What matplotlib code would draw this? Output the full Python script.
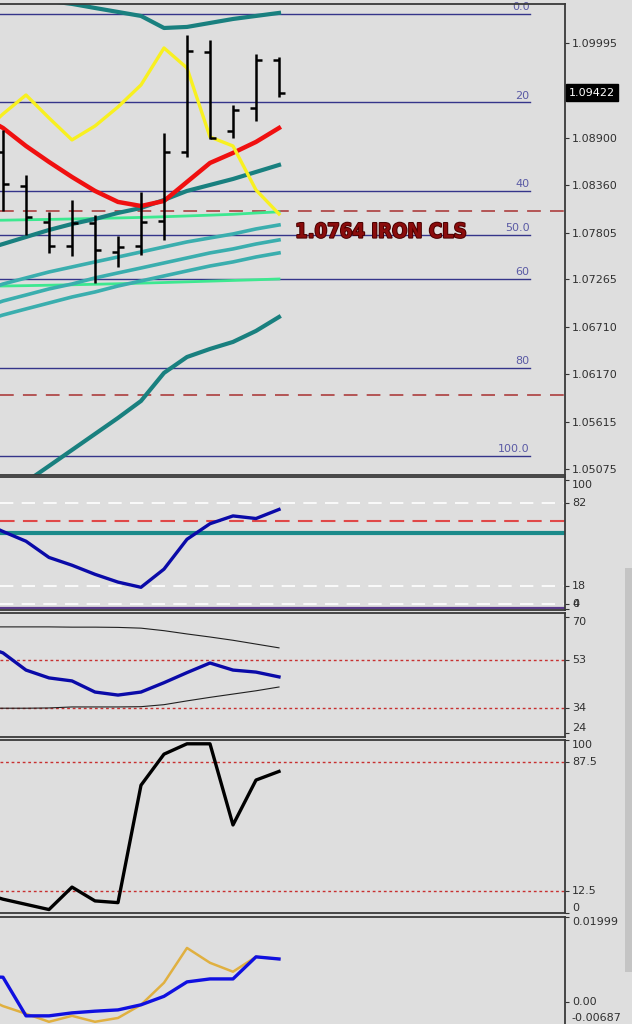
import numpy as np
import matplotlib
matplotlib.use('Agg')
import matplotlib.pyplot as plt
import matplotlib.patheffects as pe
from matplotlib.transforms import blended_transform_factory, ScaledTranslation
from matplotlib.patches import Rectangle

W, H = 632, 1024
BG = '#dedede'

# ---------------- price panel data ----------------
bar_idx = np.arange(13)
bar_open = [1.08736, 1.08343, 1.07928, 1.07650, 1.07916, 1.07581, 1.07650,
            1.07939, 1.08736, 1.09891, 1.08979, 1.09244, 1.09799]
bar_high = [1.08990, 1.08470, 1.08043, 1.08182, 1.08008, 1.07766, 1.08274,
            1.08956, 1.10087, 1.10030, 1.09279, 1.09868, 1.09833]
bar_low = [1.08055, 1.07777, 1.07570, 1.07535, 1.07223, 1.07408, 1.07546,
           1.07720, 1.08678, 1.08886, 1.08898, 1.09094, 1.09371]
bar_close = [1.08366, 1.07985, 1.07650, 1.07916, 1.07604, 1.07639, 1.07928,
             1.08736, 1.09903, 1.08898, 1.09221, 1.09799, 1.09422]

line_idx = np.arange(-1, 13)
yellow_line = [1.08932, 1.09175, 1.09394, 1.09129, 1.08875, 1.09036, 1.09256,
               1.09510, 1.09937, 1.09706, 1.08909, 1.08805, 1.08297, 1.08020]
red_line = [1.09163, 1.09013, 1.08805, 1.08621, 1.08447, 1.08286, 1.08159,
            1.08112, 1.08170, 1.08390, 1.08609, 1.08725, 1.08852, 1.09013]
teal_mid = [1.07593, 1.07673, 1.07754, 1.07835, 1.07904, 1.07962, 1.08032,
            1.08089, 1.08182, 1.08286, 1.08355, 1.08424, 1.08505, 1.08586]
green_a = [1.07945, 1.07948, 1.07953, 1.07957, 1.07962, 1.07968, 1.07974,
           1.07980, 1.07988, 1.07997, 1.08006, 1.08016, 1.08031, 1.08045]
green_b = [1.07185, 1.07188, 1.07192, 1.07197, 1.07202, 1.07208, 1.07214,
           1.07221, 1.07228, 1.07236, 1.07244, 1.07252, 1.07260, 1.07269]
lteal_a = [1.07119, 1.07211, 1.07281, 1.07350, 1.07408, 1.07466, 1.07523,
           1.07581, 1.07639, 1.07697, 1.07743, 1.07789, 1.07847, 1.07893]
lteal_b = [1.06923, 1.07015, 1.07084, 1.07154, 1.07211, 1.07281, 1.07339,
           1.07396, 1.07454, 1.07512, 1.07570, 1.07616, 1.07673, 1.07720]
lteal_c = [1.06773, 1.06853, 1.06923, 1.06992, 1.07061, 1.07119, 1.07188,
           1.07246, 1.07304, 1.07362, 1.07419, 1.07466, 1.07523, 1.07570]

band_idx = np.arange(1, 13)
teal_top = [1.10526, 1.10480, 1.10446, 1.10399, 1.10353, 1.10307, 1.10168,
            1.10180, 1.10226, 1.10272, 1.10307, 1.10342]
teal_low = [1.04925, 1.05109, 1.05294, 1.05479, 1.05664, 1.05860, 1.06184,
            1.06368, 1.06461, 1.06542, 1.06669, 1.06830]

fib_high = 1.10330
fib_low = 1.05225
fib_levels = [0, 20, 40, 50, 60, 80, 100]
fib_labels = ['0.0', '20', '40', '50.0', '60', '80', '100.0']
red_dashed_levels = [1.08055, 1.05929]
iron_text = '1.0764 IRON CLS'
iron_price = 1.0781
last_price = 1.09422
price_ticks = [1.09995, 1.08900, 1.08360, 1.07805, 1.07265, 1.06710,
               1.06170, 1.05615, 1.05075]

# ---------------- panel 2 ----------------
osc1 = [68, 60, 52.5, 40, 34, 27, 21, 17, 31, 54, 66, 72, 70, 77]
osc1_white = [82, 18, 4]
osc1_red = 68
osc1_teal = 59
osc1_purple = 1
osc1_ticks = [100, 82, 18, 4, 0]

# ---------------- panel 3 ----------------
osc2 = [59, 55.8, 49.0, 45.9, 44.7, 40.3, 39.1, 40.3, 44.0, 48.0, 51.8, 49.0, 48.2, 46.3]
osc2_upper = [66.1, 66.1, 66.1, 66.1, 66.0, 66.0, 65.9, 65.6, 64.6, 63.3, 62.1, 60.8, 59.3, 57.8]
osc2_lower = [33.9, 33.9, 33.9, 34.0, 34.4, 34.4, 34.4, 34.5, 35.3, 36.8, 38.2, 39.5, 40.8, 42.3]
osc2_levels = [53, 34]
osc2_ticks = [70, 53, 34, 24]

# ---------------- panel 4 ----------------
osc3 = [12, 8, 5, 2, 15, 7, 6, 74, 92, 98, 98, 51, 77, 82]
osc3_levels = [87.5, 12.5]
osc3_ticks = [100, 87.5, 12.5, 0]

# ---------------- panel 5 ----------------
macd_blue = [0.0060, 0.0058, -0.0033, -0.0033, -0.0026, -0.0022, -0.0019,
             -0.0007, 0.0013, 0.0047, 0.0054, 0.0054, 0.0106, 0.0101]
macd_gold = [0.0015, -0.0010, -0.0028, -0.0047, -0.0033, -0.0047, -0.0038,
             -0.0007, 0.0045, 0.0127, 0.0092, 0.0071, 0.0106, 0.0101]
macd_ticks = [0.01999, 0.0, -0.00687]
macd_labels = ['0.01999', '0.00', '-0.00687']

plt.rcParams['font.family'] = ['DejaVu Sans']

fig = plt.figure(figsize=(W / 100, H / 100), dpi=100, facecolor=BG)


def panel(top, bottom):
    ax = fig.add_axes([0, 1 - bottom / H, 565 / W, (bottom - top) / H], facecolor=BG)
    ax.set_xlim(-0.13, 24.435)
    ax.spines['left'].set_visible(False)
    for s in ['top', 'bottom', 'right']:
        ax.spines[s].set_color('#3a3a3a')
        ax.spines[s].set_linewidth(1.3)
    ax.set_xticks([])
    ax.yaxis.tick_right()
    ax.tick_params(axis='y', direction='out', length=3, width=0.8, color='#333333',
                   pad=2, labelsize=8, labelcolor='#303030')
    return ax


# ======== price panel ========
ax1 = panel(4, 475)
ax1.set_ylim(1.05005, 1.10445)
ax1.set_yticks(price_ticks)
ax1.set_yticklabels(['%.5f' % v for v in price_ticks])

for lvl, lab in zip(fib_levels, fib_labels):
    p = fib_high - (fib_high - fib_low) * lvl / 100.0
    ax1.plot([-0.13, 22.9], [p, p], color='#35358a', lw=1.0, zorder=1)
    ax1.text(22.9, p + 0.0002, lab, ha='right', va='bottom', fontsize=8,
             color='#5a5aa5', zorder=1)
for p in red_dashed_levels:
    ax1.plot([-0.13, 24.435], [p, p], color='#a83030', lw=1.1, dashes=[9, 6], zorder=1)

ax1.plot(line_idx, green_a, color='#3de890', lw=2.0, zorder=2)
ax1.plot(line_idx, green_b, color='#3de890', lw=2.0, zorder=2)
for ln in (lteal_a, lteal_b, lteal_c):
    ax1.plot(line_idx, ln, color='#3aaeae', lw=2.6, zorder=2)
ax1.plot(band_idx, teal_top, color='#19807f', lw=3.0, zorder=2)
ax1.plot(band_idx, teal_low, color='#19807f', lw=3.0, zorder=2)
ax1.plot(line_idx, teal_mid, color='#19807f', lw=3.0, zorder=3)
ax1.plot(line_idx, red_line, color='#f01010', lw=3.2, zorder=3)
ax1.plot(line_idx, yellow_line, color='#f8f020', lw=2.4, zorder=4)

tk = 0.28
ax1.vlines(bar_idx, bar_low, bar_high, color='black', lw=1.8, zorder=5)
ax1.hlines(bar_open, bar_idx - tk, bar_idx, color='black', lw=1.8, zorder=5)
ax1.hlines(bar_close, bar_idx, bar_idx + tk, color='black', lw=1.8, zorder=5)

ax1.text(12.7, iron_price, iron_text, ha='left', va='center', fontsize=14.5,
         fontweight='bold', color='#8a0c0c', fontstretch='condensed',
         family=['Liberation Sans Narrow', 'DejaVu Sans'],
         path_effects=[pe.withStroke(linewidth=1.4, foreground='#4a0000')], zorder=6)

tr = blended_transform_factory(ax1.transAxes, ax1.transData)
ax1.text(1.007, last_price, '%.5f' % last_price, transform=tr, ha='left', va='center',
         fontsize=8, color='white', zorder=10, clip_on=False,
         bbox=dict(boxstyle='square,pad=0.3', facecolor='black', edgecolor='black'))

# ======== panel 2 ========
ax2 = panel(477, 610)
ax2.set_ylim(-0.5, 102)
for v in osc1_white:
    ax2.plot([-0.13, 24.435], [v, v], color='white', lw=1.2, dashes=[8, 5], zorder=1)
ax2.plot([-0.13, 24.435], [osc1_red, osc1_red], color='#e04848', lw=1.5, dashes=[7, 4], zorder=1)
ax2.plot([-0.13, 24.435], [osc1_teal, osc1_teal], color='#1a8a8a', lw=3.0, zorder=1)
ax2.plot([-0.13, 24.435], [osc1_purple, osc1_purple], color='#5a3a8a', lw=1.6, zorder=1)
ax2.plot(line_idx, osc1, color='#0a0aa8', lw=2.4, zorder=3)
ax2.set_yticks(osc1_ticks)
ax2.set_yticklabels([str(v) for v in osc1_ticks])
for lab, va in zip(ax2.get_yticklabels(), ['top', 'center', 'center', 'center', 'bottom']):
    lab.set_va(va)

# ======== panel 3 ========
ax3 = panel(613, 737)
ax3.set_ylim(22.5, 71.6)
for v in osc2_levels:
    ax3.plot([-0.13, 24.435], [v, v], color='#c83030', lw=1.0, dashes=[2, 2], zorder=1)
ax3.plot(line_idx, osc2_upper, color='#202020', lw=0.8, zorder=2)
ax3.plot(line_idx, osc2_lower, color='#202020', lw=0.8, zorder=2)
ax3.plot(line_idx, osc2, color='#0a0aa8', lw=2.4, zorder=3)
ax3.set_yticks(osc2_ticks)
ax3.set_yticklabels([str(v) for v in osc2_ticks])
for lab, va in zip(ax3.get_yticklabels(), ['top', 'center', 'center', 'bottom']):
    lab.set_va(va)

# ======== panel 4 ========
ax4 = panel(740, 913)
ax4.set_ylim(0.4, 100.2)
for v in osc3_levels:
    ax4.plot([-0.13, 24.435], [v, v], color='#c83030', lw=1.0, dashes=[2, 2], zorder=1)
ax4.plot(line_idx, osc3, color='black', lw=2.4, zorder=3)
ax4.set_yticks(osc3_ticks)
ax4.set_yticklabels(['100', '87.5', '12.5', '0'])
for lab, va in zip(ax4.get_yticklabels(), ['top', 'center', 'center', 'bottom']):
    lab.set_va(va)

# ======== panel 5 ========
ax5 = panel(917, 1031)
ax5.set_ylim(-0.00687, 0.01999)
ax5.plot(line_idx, macd_gold, color='#e0b040', lw=1.8, zorder=2)
ax5.plot(line_idx, macd_blue, color='#1010e0', lw=2.4, zorder=3)
ax5.set_yticks(macd_ticks)
ax5.set_yticklabels(macd_labels)
for lab, va in zip(ax5.get_yticklabels(), ['top', 'center', 'bottom']):
    lab.set_va(va)
# lift the bottom label a little so it stays inside the picture
low_lab = ax5.yaxis.get_major_ticks()[2].label2
low_lab.set_transform(low_lab.get_transform() +
                      ScaledTranslation(0, 6 / 72, fig.dpi_scale_trans))

# scrollbar on the right edge
fig.patches.append(Rectangle((625 / W, 1 - 972 / H), 7 / W, 404 / H,
                             transform=fig.transFigure, facecolor='#c4c4c4',
                             edgecolor='none', zorder=0))

fig.savefig('out.png', dpi=100, facecolor=BG)
